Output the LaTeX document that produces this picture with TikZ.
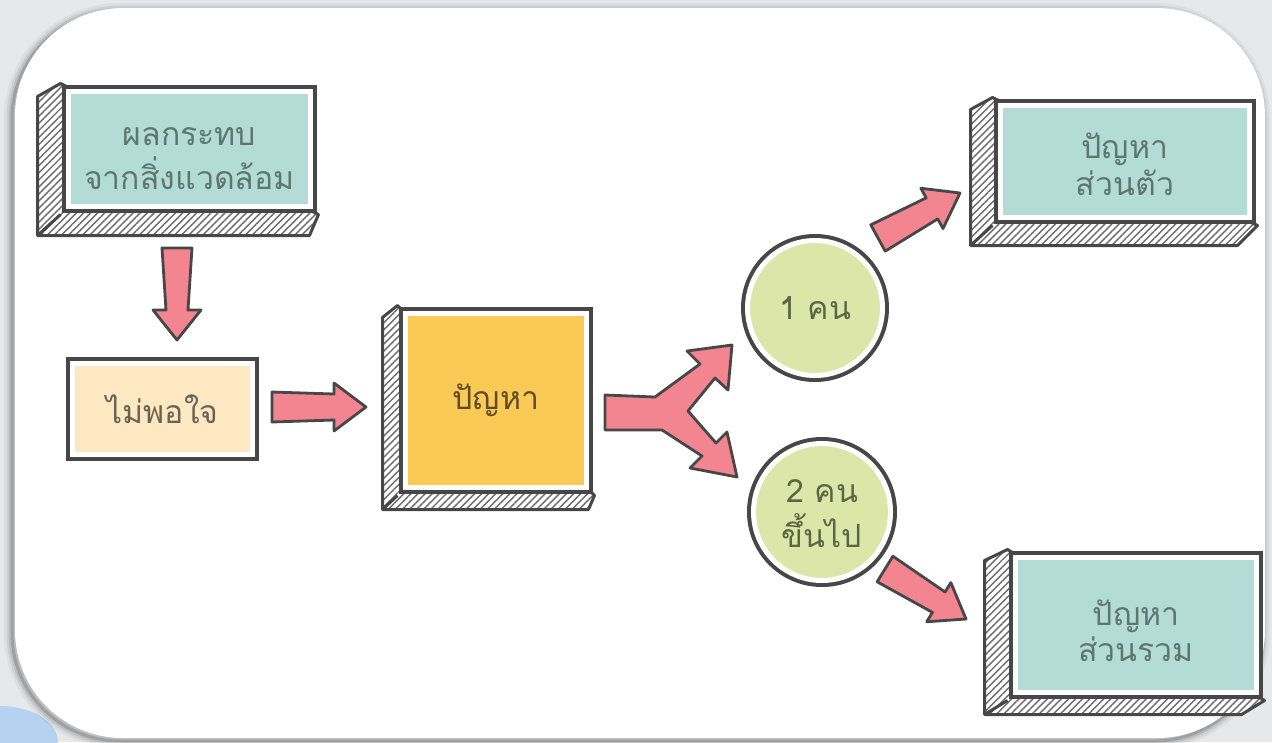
\documentclass[tikz,border=0pt]{standalone}
\usepackage{fontspec}
\newfontfamily\thaifont[Script=Thai]{Loma}
\usetikzlibrary{calc,patterns.meta}
\definecolor{dark}{HTML}{474747}
\definecolor{bggray}{HTML}{E6E8EA}
\definecolor{skyblue}{HTML}{B5D2F0}
\definecolor{teal}{HTML}{B3DCD6}
\definecolor{gold}{HTML}{FBC956}
\definecolor{cream}{HTML}{FDE8C1}
\definecolor{lime}{HTML}{DDE6A9}
\definecolor{pinkA}{HTML}{F2858F}
\definecolor{hatch}{HTML}{6A6A6A}
\definecolor{tealtext}{HTML}{5E7672}
\definecolor{goldtext}{HTML}{5E4C22}
\definecolor{creamtext}{HTML}{6A6455}
\definecolor{limetext}{HTML}{5C6646}
\pgfdeclarelayer{back}
\pgfdeclarelayer{depth}
\pgfsetlayers{back,depth,main}
\tikzset{
  front/.style={draw=white, line width=5pt, preaction={draw=dark, line width=13pt},
    inner sep=0pt, align=center, font=\thaifont\fontsize{32}{36}\selectfont},
  depthside/.style={preaction={fill=white}, pattern={Lines[angle=45,distance=5pt,line width=1.4pt]},
    pattern color=hatch, draw=dark, line width=3pt, line join=round},
  depthedge/.style={draw=dark, line width=3pt},
  block/.style={fill=pinkA, draw=dark, line width=2.8pt, line join=round},
}
% two-line text, moved down by #1
\newcommand\lowered[2]{\raisebox{0pt}[\dimexpr\height+#1\relax][\dimexpr\depth-#1\relax]{%
  \begin{tabular}{@{}c@{}}#2\end{tabular}}}
% #1 node, #2 left depth, #3 top drop, #4 bottom drop, #5 right inset
\newcommand\boxdepth[5]{%
  \begin{pgfonlayer}{depth}
  \path[depthside]
    ($(#1.north west)+(-5.5pt,5.5pt)$) --
    ($(#1.north west)+(-5.5pt-#2pt,5.5pt-#3pt)$) --
    ($(#1.south west)+(-5.5pt-#2pt,-5.5pt-#4pt)$) --
    ($(#1.south east)+(5.5pt-#5pt,-5.5pt-#4pt)$) --
    ($(#1.south east)+(5.5pt,-5.5pt)$) -- cycle;
  \draw[depthedge] ($(#1.south west)+(-5.5pt,-5.5pt)$) -- ($(#1.south west)+(-5.5pt-#2pt,-5.5pt-#4pt)$);
  \end{pgfonlayer}}
% #1 start, #2 tip, #3 tail half width, #4 neck half width, #5 head half width, #6 head length
\newcommand\blockarrow[6]{%
  \draw[block] let \p3=($(#2)!#6pt!(#1)$) in
    ($(#1)!#3pt!90:(#2)$) -- ($(\p3)!#4pt!90:(#2)$) -- ($(\p3)!#5pt!90:(#2)$) -- (#2) --
    ($(\p3)!#5pt!-90:(#2)$) -- ($(\p3)!#4pt!-90:(#2)$) -- ($(#1)!#3pt!-90:(#2)$) -- cycle;}
\begin{document}
\begin{tikzpicture}[x=1pt,y=-1pt]
\useasboundingbox (0,0) rectangle (1272,742);
\begin{pgfonlayer}{back}
  \fill[bggray] (0,0) rectangle (1272,742);
  \fill[skyblue] (0,742) ellipse [x radius=58pt, y radius=36pt];
  \foreach \w/\o in {16pt/0.04,11pt/0.06,7pt/0.09,3pt/0.15}
    \draw[black, opacity=\o, line width=\w, rounded corners=108pt] (12,11) rectangle (1262,741);
  \fill[white, rounded corners=108pt] (15,8) rectangle (1265,738);
\end{pgfonlayer}

% nodes
\node[front, fill=teal, text=tealtext, minimum width=242pt, minimum height=115pt] (A) at (189.5,149) {\lowered{11pt}{ผลกระทบ\\จากสิ่งแวดล้อม}};
\node[front, fill=cream, text=creamtext, minimum width=180pt, minimum height=91pt] (B) at (162.5,409) {ไม่พอใจ};
\node[front, fill=gold, text=goldtext, minimum width=181pt, minimum height=174pt] (C) at (496,400.5) {ปัญหา};
\node[front, circle, fill=lime, text=limetext, minimum size=135pt] (P1) at (815,308) {1 คน};
\node[front, circle, fill=lime, text=limetext, minimum size=137pt] (P2) at (822,512) {\lowered{6pt}{2 คน\\ขึ้นไป}};
\node[front, fill=teal, text=tealtext, minimum width=249pt, minimum height=112pt] (D) at (1125,161.5) {\lowered{8pt}{ปัญหา\\ส่วนตัว}};
\node[front, fill=teal, text=tealtext, minimum width=241pt, minimum height=135pt] (E) at (1136,625) {\lowered{11pt}{ปัญหา\\ส่วนรวม}};

\boxdepth{A}{23}{13}{21}{9}
\boxdepth{C}{15}{12}{14}{6}
\boxdepth{D}{22}{12}{20}{20}
\boxdepth{E}{23}{11}{14}{23}

% connector end points
\coordinate (a1s) at (177,248);
\coordinate (a1e) at (177,340);
\coordinate (a2s) at (272,407);
\coordinate (a2e) at (366,407);
\coordinate (a3s) at (878,238);
\coordinate (a3e) at (960,193);
\coordinate (a4s) at (885,569);
\coordinate (a4e) at (966,619);
\coordinate (fk) at (605,412);

\blockarrow{a1s}{a1e}{15}{11}{24}{30}
\blockarrow{a2s}{a2e}{15}{13}{24}{32}
\blockarrow{a3s}{a3e}{15}{12}{23}{32}
\blockarrow{a4s}{a4e}{15}{12}{23}{32}

% fork arrow from C to the two circles
\draw[block] ([yshift=17pt]fk) -- (655,397) -- (700,364) -- (687,351) -- (732,345) -- (728,390)
  -- (715,378) -- (688,411) -- (716,443) -- (727,432) -- (737,477) -- (690,468) -- (702,456)
  -- (662,430) -- ([yshift=-18pt]fk) -- cycle;
\end{tikzpicture}
\end{document}
